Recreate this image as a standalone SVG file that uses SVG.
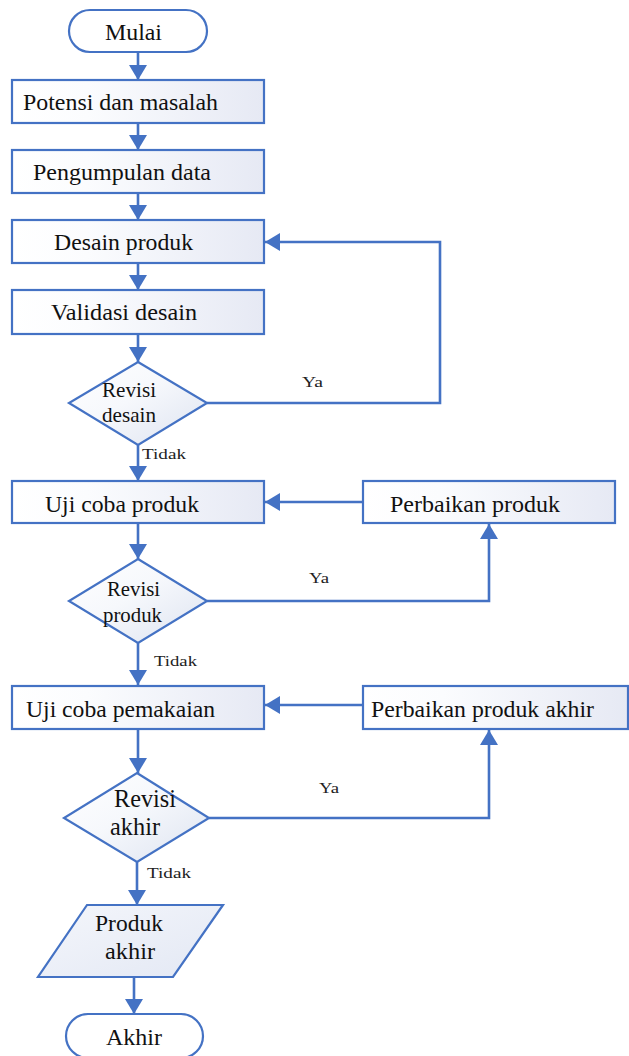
<svg xmlns="http://www.w3.org/2000/svg" width="629" height="1056" viewBox="0 0 629 1056">
<defs>
<linearGradient id="gBox" x1="0" y1="0" x2="1" y2="0">
<stop offset="0" stop-color="#ffffff"/>
<stop offset="0.3" stop-color="#fbfcfe"/>
<stop offset="1" stop-color="#e6e9f4"/>
</linearGradient>
<linearGradient id="gDia" x1="0" y1="0" x2="1" y2="1">
<stop offset="0" stop-color="#ffffff"/>
<stop offset="0.45" stop-color="#f6f8fc"/>
<stop offset="1" stop-color="#dde3f0"/>
</linearGradient>
<linearGradient id="gPar" x1="0" y1="0" x2="1" y2="1">
<stop offset="0" stop-color="#f4f6fb"/>
<stop offset="1" stop-color="#e3e8f4"/>
</linearGradient>
<marker id="arr" markerUnits="userSpaceOnUse" markerWidth="16" markerHeight="18" refX="15" refY="9" orient="auto">
<path d="M0,0 L15,9 L0,18 z" fill="#4472c4"/>
</marker>
</defs>
<style>
.box{fill:url(#gBox);stroke:#4472c4;stroke-width:2.2}
.dia{fill:url(#gDia);stroke:#4472c4;stroke-width:2.2}
.term{fill:#ffffff;stroke:#4472c4;stroke-width:2.2}
.par{fill:url(#gPar);stroke:#4472c4;stroke-width:2.2}
.t{font-family:"Liberation Serif","Times New Roman",serif;font-size:23px;fill:#111}
.s{font-family:"Liberation Serif","Times New Roman",serif;font-size:15px;fill:#222}
.c{fill:none;stroke:#4472c4;stroke-width:2.6}
</style>

<g id="connectors">
<path class="c" d="M138,52 V80" marker-end="url(#arr)"/>
<path class="c" d="M138,123 V150" marker-end="url(#arr)"/>
<path class="c" d="M138,193 V220" marker-end="url(#arr)"/>
<path class="c" d="M138,263 V290" marker-end="url(#arr)"/>
<path class="c" d="M138,334 V362" marker-end="url(#arr)"/>
<path class="c" d="M207,403 H440 V242 H265" marker-end="url(#arr)"/>
<path class="c" d="M138,445 V481" marker-end="url(#arr)"/>
<path class="c" d="M138,523 V559" marker-end="url(#arr)"/>
<path class="c" d="M207,601 H489 V524" marker-end="url(#arr)"/>
<path class="c" d="M363,502 H265" marker-end="url(#arr)"/>
<path class="c" d="M138,643 V685" marker-end="url(#arr)"/>
<path class="c" d="M363,705 H265" marker-end="url(#arr)"/>
<path class="c" d="M138,729 V773" marker-end="url(#arr)"/>
<path class="c" d="M209,818 H489 V730" marker-end="url(#arr)"/>
<path class="c" d="M137,862 V905" marker-end="url(#arr)"/>
<path class="c" d="M134,977 V1014" marker-end="url(#arr)"/>
<text class="s" x="302" y="387" textLength="21" lengthAdjust="spacingAndGlyphs">Ya</text>
<text class="s" x="142" y="459" textLength="44" lengthAdjust="spacingAndGlyphs">Tidak</text>
<text class="s" x="309" y="583" textLength="20" lengthAdjust="spacingAndGlyphs">Ya</text>
<text class="s" x="154" y="666" textLength="43" lengthAdjust="spacingAndGlyphs">Tidak</text>
<text class="s" x="319" y="793" textLength="20" lengthAdjust="spacingAndGlyphs">Ya</text>
<text class="s" x="147" y="878" textLength="44" lengthAdjust="spacingAndGlyphs">Tidak</text>
</g>

<g id="mulai">
<rect class="term" x="69" y="10" width="138" height="42" rx="21" ry="21"/>
<text class="t" x="105" y="40" style="font-size:24px" textLength="57" lengthAdjust="spacingAndGlyphs">Mulai</text>
</g>
<g id="potensi">
<rect class="box" x="12" y="80" width="252" height="43"/>
<text class="t" x="23" y="110" textLength="195" lengthAdjust="spacingAndGlyphs">Potensi dan masalah</text>
</g>
<g id="pengumpulan">
<rect class="box" x="12" y="150" width="252" height="43"/>
<text class="t" x="33" y="180" textLength="178" lengthAdjust="spacingAndGlyphs">Pengumpulan data</text>
</g>
<g id="desain">
<rect class="box" x="12" y="220" width="252" height="43"/>
<text class="t" x="54" y="250" textLength="139" lengthAdjust="spacingAndGlyphs">Desain produk</text>
</g>
<g id="validasi">
<rect class="box" x="12" y="290" width="252" height="44"/>
<text class="t" x="51" y="320" textLength="146" lengthAdjust="spacingAndGlyphs">Validasi desain</text>
</g>
<g id="revisi-desain">
<polygon class="dia" points="138,362 207,403 138,445 69,403"/>
<text class="t" x="102" y="397" style="font-size:21px" textLength="54" lengthAdjust="spacingAndGlyphs">Revisi</text>
<text class="t" x="102" y="422" style="font-size:21px" textLength="54" lengthAdjust="spacingAndGlyphs">desain</text>
</g>
<g id="uji-produk">
<rect class="box" x="12" y="481" width="252" height="42"/>
<text class="t" x="45" y="512" textLength="154" lengthAdjust="spacingAndGlyphs">Uji coba produk</text>
</g>
<g id="perbaikan-produk">
<rect class="box" x="363" y="481" width="252" height="42"/>
<text class="t" x="390" y="512" textLength="170" lengthAdjust="spacingAndGlyphs">Perbaikan produk</text>
</g>
<g id="revisi-produk">
<polygon class="dia" points="138,559 207,601 138,643 69,601"/>
<text class="t" x="107" y="596" style="font-size:21px" textLength="53" lengthAdjust="spacingAndGlyphs">Revisi</text>
<text class="t" x="103" y="622" style="font-size:21px" textLength="59" lengthAdjust="spacingAndGlyphs">produk</text>
</g>
<g id="uji-pemakaian">
<rect class="box" x="12" y="686" width="252" height="43"/>
<text class="t" x="26" y="717" textLength="189" lengthAdjust="spacingAndGlyphs">Uji coba pemakaian</text>
</g>
<g id="perbaikan-akhir">
<rect class="box" x="363" y="686" width="265" height="43"/>
<text class="t" x="371" y="717" textLength="223" lengthAdjust="spacingAndGlyphs">Perbaikan produk akhir</text>
</g>
<g id="revisi-akhir">
<polygon class="dia" points="137,773 209,818 137,862 64,818"/>
<text class="t" x="114" y="807" style="font-size:25px" textLength="62" lengthAdjust="spacingAndGlyphs">Revisi</text>
<text class="t" x="110" y="835" style="font-size:25px" textLength="50" lengthAdjust="spacingAndGlyphs">akhir</text>
</g>
<g id="produk-akhir">
<polygon class="par" points="87,905 223,905 173,977 38,977"/>
<text class="t" x="95" y="931" style="font-size:24px" textLength="68" lengthAdjust="spacingAndGlyphs">Produk</text>
<text class="t" x="105" y="959" style="font-size:24px" textLength="50" lengthAdjust="spacingAndGlyphs">akhir</text>
</g>
<g id="akhir">
<rect class="term" x="66" y="1014" width="137" height="44" rx="22" ry="22"/>
<text class="t" x="106" y="1045" style="font-size:24px" textLength="56" lengthAdjust="spacingAndGlyphs">Akhir</text>
</g>
</svg>
